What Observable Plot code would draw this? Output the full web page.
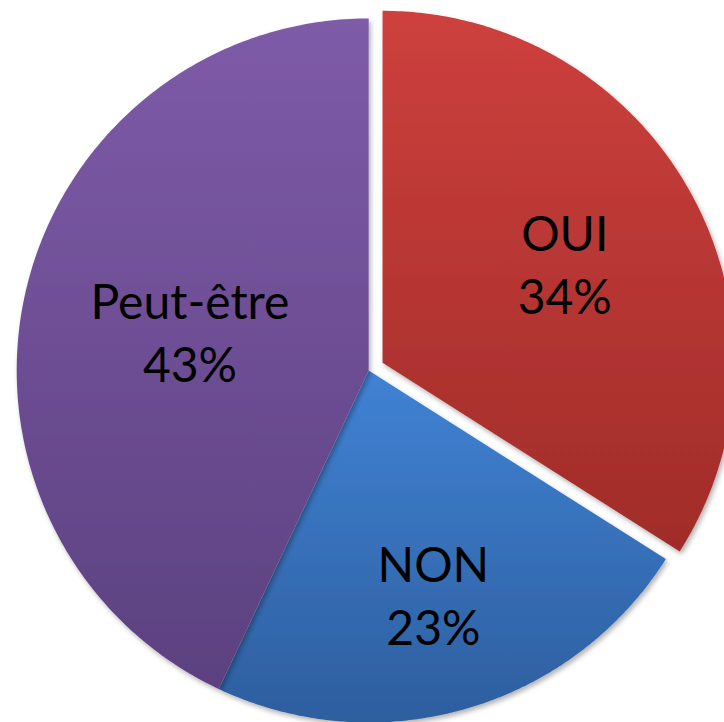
<!DOCTYPE html>
<html><head><meta charset="utf-8">
<script src="https://cdn.jsdelivr.net/npm/d3@7"></script>
<script src="https://cdn.jsdelivr.net/npm/@observablehq/plot@0.6"></script>
<style>html,body{margin:0;padding:0;background:#fff;overflow:hidden}svg{overflow:hidden}</style>
</head><body><div id="chart"></div>
<script>
const categories = ["OUI", "NON", "Peut-être"];
const values = [34, 23, 43];
const percentLabels = ["34%", "23%", "43%"];
const colorTop = ["#cd403d", "#4082d4", "#7e5ba8"];
const colorBottom = ["#a02c29", "#2d5e9e", "#5c4180"];

const explodedOffset = 0.045;
const labelFactor = 1.08;
const arcs = d3.pie().sort(null).value(d => d)(values);
const slicePoints = [];
const labelData = [];
arcs.forEach((a, i) => {
  const mid = (a.startAngle + a.endAngle) / 2;
  const half = (a.endAngle - a.startAngle) / 2;
  const off = i === 0 ? explodedOffset : 0;
  const cx = off * Math.sin(mid), cy = off * Math.cos(mid);
  slicePoints.push({name: categories[i], x: cx, y: cy});
  const n = 200;
  for (let k = 0; k <= n; k++) {
    const t = a.startAngle + (a.endAngle - a.startAngle) * k / n;
    slicePoints.push({name: categories[i], x: cx + Math.sin(t), y: cy + Math.cos(t)});
  }
  // sector area centroid distance, slightly pushed outward
  const rc = labelFactor * 2 * Math.sin(half) / (3 * half);
  labelData.push({
    text: categories[i] + "\n" + percentLabels[i],
    x: cx + rc * Math.sin(mid),
    y: cy + rc * Math.cos(mid)
  });
});

const chart = Plot.plot({
  width: 724,
  height: 722,
  margin: 0,
  x: {domain: [-1.046, 1.011], axis: null},
  y: {domain: [-1.0, 1.051], axis: null},
  style: {background: "white", overflow: "hidden"},
  marks: [
    ...categories.map((c, i) => Plot.line(slicePoints.filter(p => p.name === c), {
      x: "x", y: "y", fill: `url(#grad${i})`, stroke: "none", curve: "linear-closed"
    })),
    Plot.text(labelData, {
      x: "x", y: "y", text: "text", fontSize: 48, lineHeight: 1.31,
      fill: "black", fontFamily: "Lato, 'Open Sans', sans-serif"
    })
  ]
});

const svg = d3.select(chart);
const defs = svg.insert("defs", ":first-child");
categories.forEach((c, i) => {
  const g = defs.append("linearGradient").attr("id", `grad${i}`)
    .attr("x1", 0).attr("y1", 0).attr("x2", 0).attr("y2", 1);
  g.append("stop").attr("offset", "0%").attr("stop-color", colorTop[i]);
  g.append("stop").attr("offset", "100%").attr("stop-color", colorBottom[i]);
});
const f = defs.append("filter").attr("id", "shadow")
  .attr("x", "-10%").attr("y", "-10%").attr("width", "120%").attr("height", "120%");
f.append("feDropShadow").attr("dx", 2).attr("dy", 3).attr("stdDeviation", 2.5)
  .attr("flood-color", "#000").attr("flood-opacity", 0.3);
svg.selectAll("g[aria-label=line] path").attr("filter", "url(#shadow)");

document.getElementById("chart").appendChild(chart);
</script>
</body></html>
